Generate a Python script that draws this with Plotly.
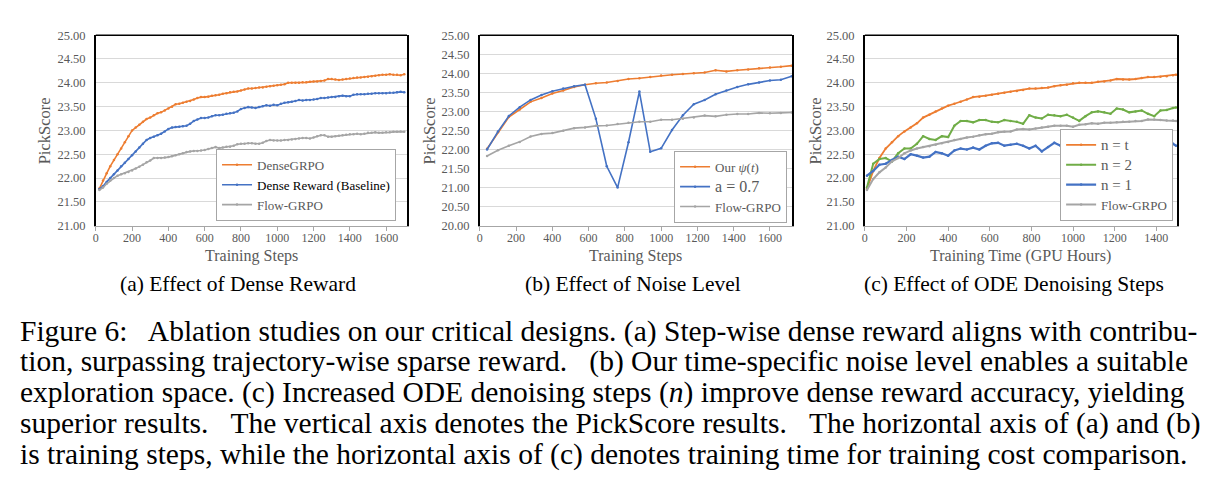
import plotly.graph_objects as go

W, H = 1219, 500

# ---------------- data ----------------
# (a) Effect of Dense Reward
steps_a = [20, 40, 60, 80, 100, 120, 140, 160, 180, 200, 220, 240, 260, 280, 300, 320, 340, 360, 380, 400,
           420, 440, 460, 480, 500, 520, 540, 560, 580, 600, 620, 640, 660, 680, 700, 720, 740, 760, 780, 800,
           820, 840, 860, 880, 900, 920, 940, 960, 980, 1000, 1020, 1040, 1060, 1080, 1100, 1120, 1140, 1160,
           1180, 1200, 1220, 1240, 1260, 1280, 1300, 1320, 1340, 1360, 1380, 1400, 1420, 1440, 1460, 1480,
           1500, 1520, 1540, 1560, 1580, 1600, 1620, 1640, 1660, 1680, 1700]
dense_grpo_a = [21.78, 21.95, 22.10, 22.25, 22.38, 22.50, 22.62, 22.75, 22.88, 23.00, 23.06, 23.12, 23.18, 23.24,
                23.27, 23.32, 23.36, 23.38, 23.42, 23.46, 23.50, 23.55, 23.56, 23.58, 23.60, 23.62, 23.65, 23.68,
                23.70, 23.70, 23.71, 23.73, 23.74, 23.75, 23.77, 23.78, 23.80, 23.81, 23.82, 23.84, 23.86, 23.88,
                23.88, 23.89, 23.90, 23.90, 23.92, 23.93, 23.94, 23.95, 23.96, 23.97, 24.00, 24.00, 24.00, 24.00,
                24.01, 24.01, 24.02, 24.03, 24.03, 24.04, 24.05, 24.08, 24.08, 24.07, 24.06, 24.07, 24.08, 24.09,
                24.10, 24.11, 24.11, 24.12, 24.13, 24.14, 24.15, 24.16, 24.17, 24.17, 24.18, 24.17, 24.17, 24.16,
                24.18]
dense_reward_a = [21.77, 21.83, 21.92, 22.00, 22.08, 22.16, 22.25, 22.32, 22.40, 22.48, 22.56, 22.64, 22.72, 22.80,
                  22.84, 22.87, 22.90, 22.93, 22.98, 23.03, 23.06, 23.07, 23.08, 23.09, 23.10, 23.14, 23.20, 23.23,
                  23.26, 23.26, 23.27, 23.30, 23.32, 23.32, 23.33, 23.35, 23.36, 23.37, 23.40, 23.45, 23.47, 23.49,
                  23.48, 23.47, 23.49, 23.51, 23.53, 23.52, 23.54, 23.53, 23.56, 23.58, 23.59, 23.60, 23.62, 23.64,
                  23.63, 23.64, 23.64, 23.65, 23.66, 23.68, 23.68, 23.69, 23.70, 23.70, 23.72, 23.73, 23.72, 23.72,
                  23.75, 23.76, 23.76, 23.76, 23.77, 23.77, 23.78, 23.78, 23.78, 23.78, 23.79, 23.79, 23.80, 23.81,
                  23.80]
flow_grpo_a = [21.75, 21.80, 21.88, 21.95, 22.00, 22.05, 22.08, 22.10, 22.13, 22.16, 22.20, 22.24, 22.28, 22.33,
               22.37, 22.42, 22.42, 22.42, 22.43, 22.44, 22.46, 22.48, 22.50, 22.52, 22.55, 22.56, 22.57, 22.57,
               22.58, 22.59, 22.61, 22.63, 22.65, 22.63, 22.64, 22.66, 22.66, 22.68, 22.71, 22.72, 22.72, 22.73,
               22.73, 22.72, 22.72, 22.74, 22.78, 22.80, 22.79, 22.79, 22.79, 22.80, 22.80, 22.81, 22.82, 22.83,
               22.84, 22.84, 22.83, 22.85, 22.88, 22.90, 22.90, 22.87, 22.87, 22.88, 22.89, 22.90, 22.91, 22.92,
               22.92, 22.93, 22.92, 22.93, 22.95, 22.95, 22.96, 22.95, 22.95, 22.96, 22.96, 22.97, 22.97, 22.98,
               22.97]

# (b) Effect of Noise Level
steps_b = [40, 100, 160, 220, 280, 340, 400, 460, 520, 580, 640, 700, 760, 820, 880, 940, 1000, 1060, 1120,
           1180, 1240, 1300, 1360, 1420, 1480, 1540, 1600, 1660, 1720]
our_psi_b = [22.02, 22.45, 22.85, 23.05, 23.25, 23.35, 23.47, 23.55, 23.64, 23.70, 23.74, 23.76, 23.80, 23.85,
             23.87, 23.90, 23.94, 23.96, 23.98, 24.00, 24.02, 24.08, 24.05, 24.08, 24.10, 24.13, 24.15, 24.17, 24.20]
a07_b = [22.00, 22.47, 22.88, 23.11, 23.30, 23.43, 23.53, 23.60, 23.66, 23.70, 22.81, 21.56, 21.00, 22.19,
         23.52, 21.94, 22.03, 22.51, 22.90, 23.19, 23.30, 23.45, 23.55, 23.64, 23.71, 23.76, 23.81, 23.83, 23.92]
flow_grpo_b = [21.83, 21.98, 22.10, 22.20, 22.34, 22.41, 22.43, 22.49, 22.56, 22.58, 22.62, 22.63, 22.67, 22.70,
               22.73, 22.73, 22.78, 22.78, 22.81, 22.84, 22.89, 22.87, 22.91, 22.93, 22.93, 22.96, 22.95, 22.96,
               22.97]

# (c) Effect of ODE Denoising Steps
hours_c = [10, 40, 70, 100, 130, 160, 190, 220, 250, 280, 310, 340, 370, 400, 430, 460, 490, 520, 550, 580,
           610, 640, 670, 700, 730, 760, 790, 820, 850, 880, 910, 940, 970, 1000, 1030, 1060, 1090, 1120, 1150,
           1180, 1210, 1240, 1270, 1300, 1330, 1360, 1390, 1420, 1450, 1480, 1495]
n_t_c = [21.77, 22.15, 22.42, 22.62, 22.75, 22.88, 22.98, 23.06, 23.15, 23.27, 23.33, 23.40, 23.46, 23.52, 23.56,
         23.60, 23.65, 23.70, 23.71, 23.73, 23.75, 23.77, 23.79, 23.81, 23.83, 23.85, 23.88, 23.88, 23.89, 23.90,
         23.93, 23.95, 23.96, 23.99, 24.00, 24.00, 24.00, 24.02, 24.03, 24.05, 24.08, 24.07, 24.07, 24.08, 24.10,
         24.12, 24.12, 24.13, 24.14, 24.16, 24.17]
n_2_c = [21.80, 22.30, 22.40, 22.42, 22.35, 22.52, 22.62, 22.62, 22.72, 22.88, 22.82, 22.80, 22.88, 22.86, 23.10,
         23.20, 23.20, 23.17, 23.22, 23.22, 23.18, 23.17, 23.22, 23.20, 23.18, 23.14, 23.32, 23.27, 23.25, 23.33,
         23.32, 23.30, 23.33, 23.27, 23.20, 23.30, 23.38, 23.40, 23.38, 23.35, 23.46, 23.44, 23.38, 23.40, 23.42,
         23.35, 23.30, 23.42, 23.43, 23.47, 23.48]
n_1_c = [22.05, 22.15, 22.28, 22.30, 22.38, 22.45, 22.40, 22.50, 22.47, 22.43, 22.45, 22.55, 22.52, 22.47, 22.58,
         22.62, 22.60, 22.64, 22.60, 22.68, 22.73, 22.74, 22.68, 22.70, 22.72, 22.68, 22.62, 22.68, 22.56, 22.65,
         22.74, 22.68, 22.57, 22.62, 22.57, 22.60, 22.66, 22.60, 22.70, 22.60, 22.70, 22.62, 22.75, 22.62, 22.64,
         22.78, 22.82, 22.70, 22.83, 22.72, 22.68]
flow_grpo_c = [21.75, 21.98, 22.12, 22.22, 22.35, 22.42, 22.52, 22.58, 22.62, 22.65, 22.67, 22.70, 22.73, 22.76,
               22.80, 22.82, 22.85, 22.87, 22.90, 22.92, 22.93, 22.96, 22.97, 22.98, 23.02, 23.03, 23.02, 23.04,
               23.06, 23.08, 23.10, 23.10, 23.10, 23.08, 23.12, 23.13, 23.15, 23.14, 23.16, 23.16, 23.17, 23.18,
               23.18, 23.20, 23.20, 23.23, 23.23, 23.22, 23.21, 23.21, 23.20]

x_ticks_ab = [0, 200, 400, 600, 800, 1000, 1200, 1400, 1600]
x_ticks_c = [0, 200, 400, 600, 800, 1000, 1200, 1400]
y_ticks_a = [21.0, 21.5, 22.0, 22.5, 23.0, 23.5, 24.0, 24.5, 25.0]
y_ticks_b = [20.0, 20.5, 21.0, 21.5, 22.0, 22.5, 23.0, 23.5, 24.0, 24.5, 25.0]

x_titles = ["Training Steps", "Training Steps", "Training Time (GPU Hours)"]
sub_titles = ["(a) Effect of Dense Reward", "(b) Effect of Noise Level", "(c) Effect of ODE Denoising Steps"]
caption_lines = [
    "Figure 6:\u2002 Ablation studies on our critical designs. (a) Step-wise dense reward aligns with contribu-",
    "tion, surpassing trajectory-wise sparse reward. \u2002(b) Our time-specific noise level enables a suitable",
    "exploration space. (c) Increased ODE denoising steps (<i>n</i>) improve dense reward accuracy, yielding",
    "superior results. \u2002The vertical axis denotes the PickScore results. \u2002The horizontal axis of (a) and (b)",
    "is training steps, while the horizontal axis of (c) denotes training time for training cost comparison.",
]

# ---------------- style ----------------
ORANGE = "#ED7D31"
BLUE = "#4472C4"
GRAY = "#A5A5A5"
GREEN = "#70AD47"
TXT = "#595959"
SERIF = "Liberation Serif"
TIMES = "Liberation Serif"

px_x = lambda p: p / W
px_y = lambda p: 1 - p / H

doms_x = [(93, 405), (478, 791), (864, 1177)]
dom_y = (px_y(225), px_y(29))

fig = go.Figure()


def add(x, y, name, color, ax, legend, width=1.6, msize=2.5):
    fig.add_trace(go.Scatter(
        x=x, y=y, name=name, mode="lines+markers",
        line=dict(color=color, width=width),
        marker=dict(color=color, size=msize, symbol="circle"),
        xaxis="x" + ax, yaxis="y" + ax, legend=legend,
    ))


add(steps_a, dense_grpo_a, "DenseGRPO", ORANGE, "", "legend")
add(steps_a, dense_reward_a, "<span style='color:#000000'>Dense Reward (Baseline)</span>", BLUE, "", "legend")
add(steps_a, flow_grpo_a, "Flow-GRPO", GRAY, "", "legend")

add(steps_b, our_psi_b, "Our <i>\u03c8</i>(<i>t</i>)", ORANGE, "2", "legend2")
add(steps_b, a07_b, "<span style='font-size:16px'>a = 0.7</span>", BLUE, "2", "legend2")
add(steps_b, flow_grpo_b, "Flow-GRPO", GRAY, "2", "legend2")

add(hours_c, n_t_c, "<span style='font-size:15px'>n = t</span>", ORANGE, "3", "legend3", width=1.8)
add(hours_c, n_2_c, "<span style='font-size:15px'>n = 2</span>", GREEN, "3", "legend3", width=2)
add(hours_c, n_1_c, "<span style='font-size:15px'>n = 1</span>", BLUE, "3", "legend3", width=2.2)
add(hours_c, flow_grpo_c, "Flow-GRPO", GRAY, "3", "legend3", width=2)

xaxis_common = dict(
    showgrid=False, zeroline=False, showline=True, linecolor="#A6A6A6", linewidth=1,
    ticks="outside", ticklen=4, tickcolor="#A6A6A6", ticklabelstandoff=-3,
    tickfont=dict(family=SERIF, size=12, color=TXT),
)
yaxis_common = dict(
    showgrid=True, gridcolor="#D9D9D9", gridwidth=1, zeroline=False,
    showline=True, mirror=True, linecolor="#000000", linewidth=1.5,
    ticks="", tickformat=".2f", ticklabelstandoff=6,
    tickfont=dict(family=SERIF, size=12.5, color=TXT),
)

layout = dict(
    width=W, height=H, margin=dict(l=0, r=0, t=0, b=0),
    paper_bgcolor="white", plot_bgcolor="white", showlegend=True,
)
names = ["", "2", "3"]
xranges = [[0, 1715], [0, 1722], [0, 1500]]
xticks = [x_ticks_ab, x_ticks_ab, x_ticks_c]
yranges = [[21, 25], [20, 25], [21, 25]]
yticks = [y_ticks_a, y_ticks_b, y_ticks_a]
for i, n in enumerate(names):
    layout["xaxis" + n] = dict(xaxis_common, domain=[px_x(doms_x[i][0]), px_x(doms_x[i][1])],
                               range=xranges[i], tickvals=xticks[i], anchor="y" + n)
    layout["yaxis" + n] = dict(yaxis_common, domain=list(dom_y), range=yranges[i],
                               tickvals=yticks[i], anchor="x" + n)

legend_common = dict(
    bgcolor="white", bordercolor="#A6A6A6", borderwidth=1,
    font=dict(family=SERIF, size=13, color=TXT),
    itemwidth=30, tracegroupgap=0, itemclick=False,
    xanchor="right", yanchor="bottom",
)
layout["legend"] = dict(legend_common, x=px_x(394), y=px_y(220))
layout["legend2"] = dict(legend_common, x=px_x(786), y=px_y(222))
layout["legend3"] = dict(legend_common, x=px_x(1173), y=px_y(220))

fig.update_layout(**layout)

shapes = []
for n in names:
    shapes.append(dict(type="line", xref=("x" + n + " domain"), yref=("y" + n + " domain"),
                       x0=0, x1=1, y0=1, y1=1, line=dict(color="#000000", width=1.5), layer="above"))
fig.update_layout(shapes=shapes)

ann = []
ytitle_x = [42, 427, 814]
for i in range(3):
    ann.append(dict(text="PickScore", x=px_x(ytitle_x[i]), y=px_y(127), xref="paper", yref="paper",
                    textangle=-90, showarrow=False, xanchor="center", yanchor="middle",
                    font=dict(family=SERIF, size=16.5, color=TXT)))
    cx = (doms_x[i][0] + doms_x[i][1]) / 2
    ann.append(dict(text=x_titles[i], x=px_x(cx), y=px_y(256), xref="paper", yref="paper",
                    showarrow=False, xanchor="center", yanchor="middle",
                    font=dict(family=SERIF, size=16, color=TXT)))
sub_cx = [236, 632, 1013]
for i in range(3):
    ann.append(dict(text=sub_titles[i], x=px_x(sub_cx[i]), y=px_y(285), xref="paper", yref="paper",
                    showarrow=False, xanchor="center", yanchor="middle",
                    font=dict(family=TIMES, size=21.5, color="#000000")))
cap_y = [334, 365, 397, 428, 460]
for i, line in enumerate(caption_lines):
    ann.append(dict(text=line, x=px_x(15), y=px_y(cap_y[i]), xref="paper", yref="paper",
                    showarrow=False, xanchor="left", yanchor="middle",
                    font=dict(family=TIMES, size=29.5, color="#000000")))
fig.update_layout(annotations=ann)

fig.write_html("out.html")
